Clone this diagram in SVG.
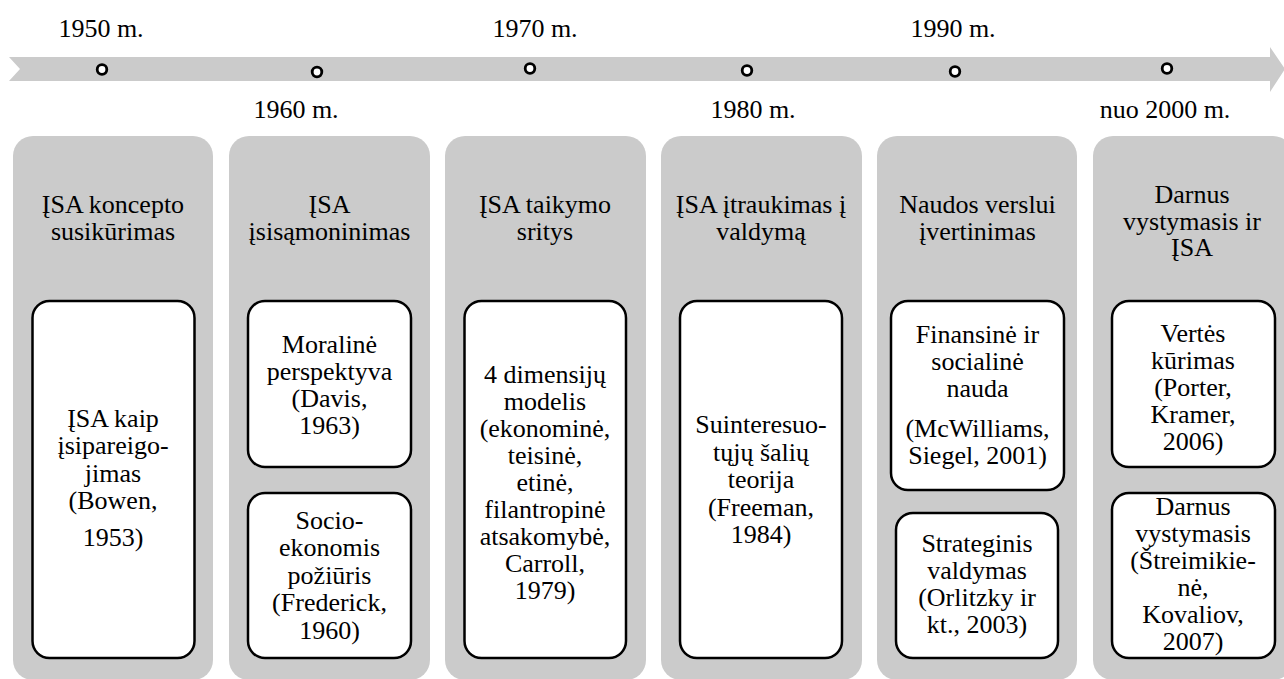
<svg xmlns="http://www.w3.org/2000/svg" width="1284" height="679" viewBox="0 0 1284 679">
<style>
text{font-family:"Liberation Serif","Times New Roman",serif;font-size:26px;fill:#000;text-anchor:middle}
.col{fill:#cbcbcb}
.box{fill:#fff;stroke:#000;stroke-width:2.5}
.dot{fill:#fff;stroke:#000;stroke-width:2.8}
</style>
<rect width="1284" height="679" fill="#fff"/>
<g id="timeline">
<path d="M9,57 L1270,57 L1270,47 L1285,69 L1270,92 L1270,81 L9,81 L20,69 Z" fill="#cbcbcb"/>
<circle class="dot" cx="102" cy="69.5" r="4.8"/>
<circle class="dot" cx="317" cy="72" r="4.8"/>
<circle class="dot" cx="530" cy="68.5" r="4.8"/>
<circle class="dot" cx="747" cy="70.5" r="4.8"/>
<circle class="dot" cx="955" cy="71.5" r="4.8"/>
<circle class="dot" cx="1167" cy="68.5" r="4.8"/>
<text x="101" y="37">1950 m.</text>
<text x="296" y="118">1960 m.</text>
<text x="535" y="37">1970 m.</text>
<text x="753" y="118">1980 m.</text>
<text x="953" y="37">1990 m.</text>
<text x="1165" y="118">nuo 2000 m.</text>
</g>
<g id="connectors"/>
<g id="col1">
<rect class="col" x="13" y="136" width="200" height="544" rx="20"/>
<text x="113" y="212.5">ĮSA koncepto<tspan x="113" y="240">susikūrimas</tspan></text>
<rect class="box" x="32.5" y="301" width="162" height="357" rx="17"/>
<text x="113" y="426.5">ĮSA kaip<tspan x="113" y="454">įsipareigo-</tspan><tspan x="113" y="481.5">jimas</tspan><tspan x="113" y="509">(Bowen,</tspan><tspan x="113" y="546">1953)</tspan></text>
</g>
<g id="col2">
<rect class="col" x="229" y="136" width="201" height="544" rx="20"/>
<text x="329.5" y="212.5">ĮSA<tspan x="329.5" y="240">įsisąmoninimas</tspan></text>
<rect class="box" x="248" y="301" width="163" height="166" rx="17"/>
<text x="329.5" y="353">Moralinė<tspan x="329.5" y="380">perspektyva</tspan><tspan x="329.5" y="407">(Davis,</tspan><tspan x="329.5" y="434">1963)</tspan></text>
<rect class="box" x="248" y="493" width="163" height="165" rx="17"/>
<text x="329.5" y="528.5">Socio-<tspan x="329.5" y="556">ekonomis</tspan><tspan x="329.5" y="583.5">požiūris</tspan><tspan x="329.5" y="611">(Frederick,</tspan><tspan x="329.5" y="638.5">1960)</tspan></text>
</g>
<g id="col3">
<rect class="col" x="445" y="136" width="201" height="544" rx="20"/>
<text x="545" y="212.5">ĮSA taikymo<tspan x="545" y="240">sritys</tspan></text>
<rect class="box" x="464.5" y="301" width="161.5" height="357" rx="17"/>
<text x="545" y="382.5">4 dimensijų<tspan x="545" y="409.5">modelis</tspan><tspan x="545" y="436.5">(ekonominė,</tspan><tspan x="545" y="463.5">teisinė,</tspan><tspan x="545" y="490.5">etinė,</tspan><tspan x="545" y="518">filantropinė</tspan><tspan x="545" y="545">atsakomybė,</tspan><tspan x="545" y="572">Carroll,</tspan><tspan x="545" y="599">1979)</tspan></text>
</g>
<g id="col4">
<rect class="col" x="661" y="136" width="201" height="544" rx="20"/>
<text x="761" y="212.5">ĮSA įtraukimas į<tspan x="761" y="240">valdymą</tspan></text>
<rect class="box" x="680" y="301" width="162" height="357" rx="17"/>
<text x="761" y="433">Suinteresuo-<tspan x="761" y="460.5">tųjų šalių</tspan><tspan x="761" y="488">teorija</tspan><tspan x="761" y="516">(Freeman,</tspan><tspan x="761" y="543">1984)</tspan></text>
</g>
<g id="col5">
<rect class="col" x="877" y="136" width="200" height="544" rx="20"/>
<text x="977.5" y="212.5">Naudos verslui<tspan x="977.5" y="240">įvertinimas</tspan></text>
<rect class="box" x="891" y="301" width="173" height="189" rx="17"/>
<text x="977.5" y="343">Finansinė ir<tspan x="977.5" y="370">socialinė</tspan><tspan x="977.5" y="397">nauda</tspan><tspan x="977.5" y="437">(McWilliams,</tspan><tspan x="977.5" y="463.5">Siegel, 2001)</tspan></text>
<rect class="box" x="896" y="513" width="162" height="145" rx="17"/>
<text x="977" y="552">Strateginis<tspan x="977" y="579">valdymas</tspan><tspan x="977" y="606">(Orlitzky ir</tspan><tspan x="977" y="633">kt., 2003)</tspan></text>
</g>
<g id="col6">
<rect class="col" x="1093" y="136" width="200" height="544" rx="20"/>
<text x="1192" y="203">Darnus<tspan x="1192" y="229.5">vystymasis ir</tspan><tspan x="1192" y="256">ĮSA</tspan></text>
<rect class="box" x="1112" y="301" width="163" height="166" rx="17"/>
<text x="1193" y="342">Vertės<tspan x="1193" y="369">kūrimas</tspan><tspan x="1193" y="396">(Porter,</tspan><tspan x="1193" y="423">Kramer,</tspan><tspan x="1193" y="450">2006)</tspan></text>
<rect class="box" x="1112" y="493" width="163" height="165" rx="17"/>
<text x="1193" y="515">Darnus<tspan x="1193" y="542">vystymasis</tspan><tspan x="1193" y="569">(Štreimikie-</tspan><tspan x="1193" y="596">nė,</tspan><tspan x="1193" y="623">Kovaliov,</tspan><tspan x="1193" y="650">2007)</tspan></text>
</g>
</svg>
